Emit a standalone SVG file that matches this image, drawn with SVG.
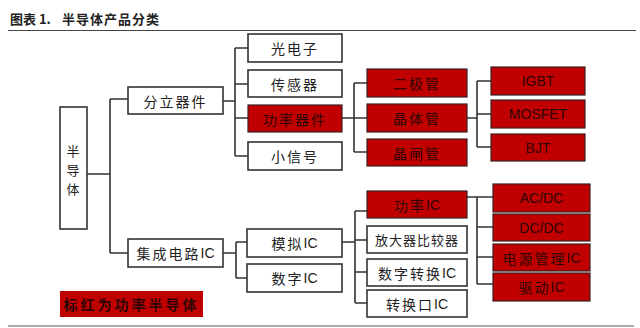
<svg xmlns="http://www.w3.org/2000/svg" width="640" height="328" viewBox="0 0 640 328">
<style>
.b{fill:#fff;stroke:#333;stroke-width:1.6}
.r{fill:#c00000;stroke:#3a2020;stroke-width:1.2}
.t{font-family:"Noto Sans CJK SC","Liberation Sans",sans-serif;font-size:14px;fill:#222;text-anchor:middle;dominant-baseline:central;letter-spacing:2px}
.tr{font-family:"Noto Sans CJK SC","Liberation Sans",sans-serif;font-size:14px;fill:#2e0404;text-anchor:middle;dominant-baseline:central;letter-spacing:2px}
.e{font-family:"Liberation Sans",Arial,sans-serif;letter-spacing:0}
.c{fill:none;stroke:#333;stroke-width:1.6}
.h{font-family:"Noto Sans CJK SC",sans-serif;font-size:13px;font-weight:bold;fill:#222;dominant-baseline:central}
</style>
<rect width="640" height="328" fill="#fff"/>
<text class="h" x="10" y="18">图表 1.</text>
<text class="h" x="62" y="18" style="letter-spacing:1px">半导体产品分类</text>
<line x1="8" y1="30.5" x2="636" y2="30.5" stroke="#444" stroke-width="1"/>
<line x1="8" y1="326" x2="634" y2="326" stroke="#555" stroke-width="1.2"/>
<g id="connectors" class="c">
<path d="M87 174H110M110 99V253M110 99H128M110 253H128"/>
<path d="M223 101H235M235 48V156M235 48H248M235 84H248M235 118H248M235 156H248"/>
<path d="M342 118H354M354 83V152M354 83H367M354 118H367M354 152H367"/>
<path d="M467 118H477M477 81V147M477 81H491M477 114H491M477 147H491"/>
<path d="M223 253H236M236 242V278M236 242H247M236 278H247"/>
<path d="M342 242H355M355 211V303M355 211H367M355 240H367M355 272H367M355 303H367"/>
<path d="M467 197H477M477 197V284M477 197H493M477 227H493M477 257H493M477 284H493"/>
</g>
<g id="n-root"><rect class="b" x="60" y="107" width="27" height="122"/><text class="t" x="74" y="150" style="font-size:13px">半</text><text class="t" x="74" y="169" style="font-size:13px">导</text><text class="t" x="74" y="188" style="font-size:13px">体</text></g>
<g id="n-discrete"><rect class="b" x="128" y="87" width="95" height="27"/><text class="t" x="175.5" y="100.5">分立器件</text></g>
<g id="n-ic"><rect class="b" x="128" y="239" width="95" height="28"/><text class="t" x="175.5" y="253">集成电路<tspan class="e">IC</tspan></text></g>
<g id="n-opto"><rect class="b" x="248" y="34" width="94" height="28"/><text class="t" x="295" y="48">光电子</text></g>
<g id="n-sensor"><rect class="b" x="248" y="70" width="94" height="27"/><text class="t" x="295" y="83.5">传感器</text></g>
<g id="n-power"><rect class="r" x="248" y="105" width="94" height="27"/><text class="tr" x="295" y="118.5">功率器件</text></g>
<g id="n-small"><rect class="b" x="248" y="142" width="94" height="28"/><text class="t" x="295" y="156">小信号</text></g>
<g id="n-diode"><rect class="r" x="367" y="69" width="100" height="28"/><text class="tr" x="417" y="83">二极管</text></g>
<g id="n-transistor"><rect class="r" x="367" y="104" width="100" height="28"/><text class="tr" x="417" y="118">晶体管</text></g>
<g id="n-thyristor"><rect class="r" x="367" y="139" width="100" height="27"/><text class="tr" x="417" y="152.5">晶闸管</text></g>
<g id="n-igbt"><rect class="r" x="491" y="67" width="94" height="28"/><text class="tr e" x="538" y="81">IGBT</text></g>
<g id="n-mosfet"><rect class="r" x="491" y="100" width="94" height="28"/><text class="tr e" x="538" y="114">MOSFET</text></g>
<g id="n-bjt"><rect class="r" x="491" y="134" width="94" height="27"/><text class="tr e" x="538" y="147.5">BJT</text></g>
<g id="n-analog"><rect class="b" x="247" y="229" width="95" height="28"/><text class="t" x="294.5" y="243">模拟<tspan class="e">IC</tspan></text></g>
<g id="n-digital"><rect class="b" x="247" y="264" width="95" height="28"/><text class="t" x="294.5" y="278">数字<tspan class="e">IC</tspan></text></g>
<g id="n-powic"><rect class="r" x="367" y="191" width="100" height="27"/><text class="tr" x="417" y="204.5">功率<tspan class="e">IC</tspan></text></g>
<g id="n-amp"><rect class="b" x="367" y="226" width="100" height="27"/><text class="t" x="417" y="239.5" style="font-size:13px;letter-spacing:1px">放大器比较器</text></g>
<g id="n-dconv"><rect class="b" x="367" y="259" width="100" height="27"/><text class="t" x="417" y="272.5">数字转换<tspan class="e">IC</tspan></text></g>
<g id="n-port"><rect class="b" x="367" y="290" width="100" height="27"/><text class="t" x="417" y="303.5">转换口<tspan class="e">IC</tspan></text></g>
<g id="n-acdc"><rect class="r" x="493" y="184" width="97" height="28"/><text class="tr e" x="541.5" y="198">AC/DC</text></g>
<g id="n-dcdc"><rect class="r" x="493" y="214" width="97" height="27"/><text class="tr e" x="541.5" y="227.5">DC/DC</text></g>
<g id="n-pmic"><rect class="r" x="493" y="244" width="97" height="27"/><text class="tr" x="541.5" y="257.5">电源管理<tspan class="e">IC</tspan></text></g>
<g id="n-driver"><rect class="r" x="493" y="273" width="97" height="28"/><text class="tr" x="541.5" y="287">驱动<tspan class="e">IC</tspan></text></g>
<g id="legend"><rect x="60" y="291" width="143" height="26" fill="#c00000"/><text class="tr" x="131.5" y="304" style="font-weight:bold;letter-spacing:3px">标红为功率半导体</text></g>
</svg>
